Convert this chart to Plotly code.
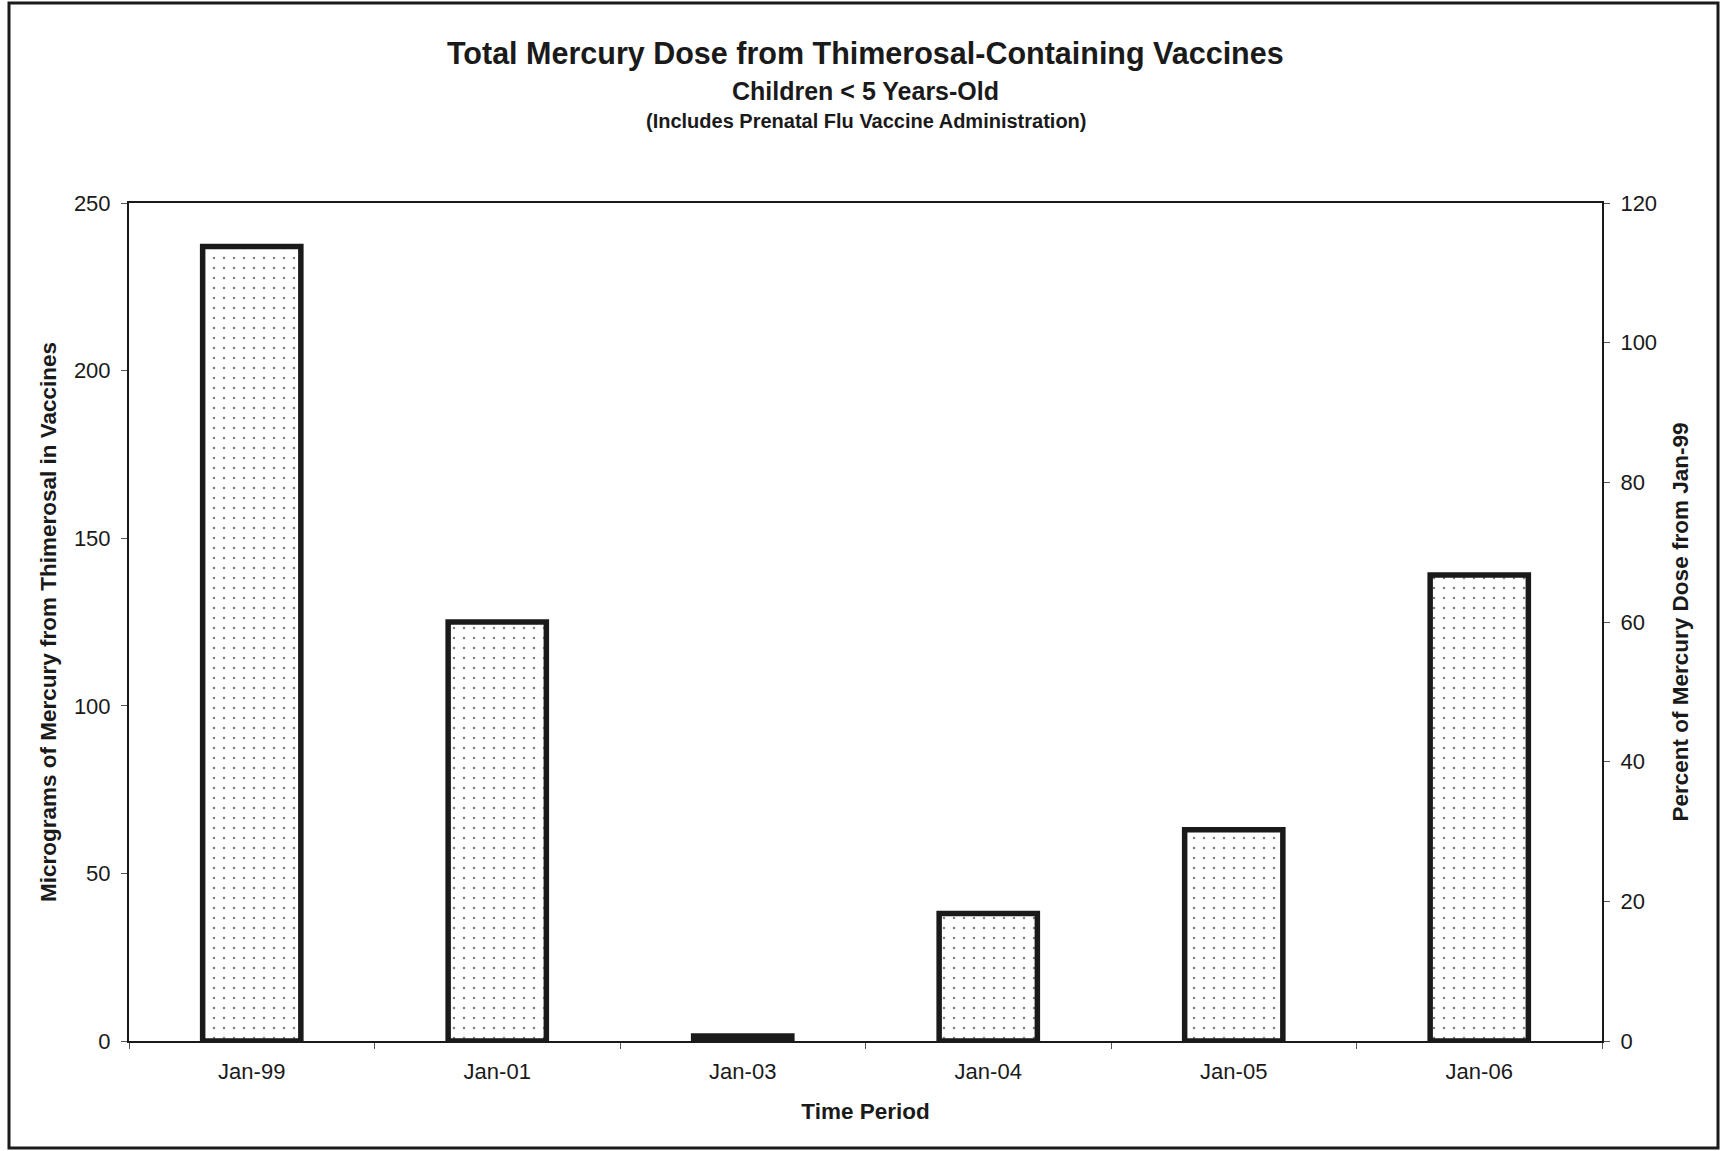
import plotly.graph_objects as go

# Time periods and total mercury dose (micrograms) per period
periods = ["Jan-99", "Jan-01", "Jan-03", "Jan-04", "Jan-05", "Jan-06"]
mercury_ug = [237, 125, 1.5, 38, 63, 139]

# Axis ticks
left_ticks = [0, 50, 100, 150, 200, 250]
right_ticks = [0, 20, 40, 60, 80, 100, 120]

FONT = "Liberation Sans, Arial, sans-serif"
INK = "#1a1a1a"

fig = go.Figure()

fig.add_trace(go.Bar(
    x=periods,
    y=mercury_ug,
    width=0.4,
    marker=dict(
        color="white",
        line=dict(color=INK, width=5.5),
        pattern=dict(shape=".", size=10, solidity=0.05, fgcolor="#000", bgcolor="white"),
    ),
    showlegend=False,
    hoverinfo="x+y",
))

# Invisible companion trace so the percent axis is laid out
fig.add_trace(go.Scatter(
    x=periods, y=[None] * len(periods), yaxis="y2",
    mode="markers", showlegend=False, hoverinfo="skip",
))

axis_common = dict(
    showgrid=False,
    zeroline=False,
    showline=True,
    linecolor=INK,
    linewidth=2,
    ticks="outside",
    ticklen=6,
    tickwidth=1,
    tickcolor="#555",
    tickfont=dict(family=FONT, size=22, color=INK),
)

TITLE_FONT = dict(family=FONT, size=22.5, color=INK)

fig.update_layout(
    width=1725,
    height=1151,
    paper_bgcolor="white",
    plot_bgcolor="white",
    margin=dict(l=129, r=123, t=203, b=110),
    bargap=0.6,
    xaxis=dict(
        **axis_common,
        tickson="boundaries",
        ticklabelstandoff=10,
        title=dict(text="<b>Time Period</b>", font=TITLE_FONT, standoff=20),
        mirror=True,
    ),
    yaxis=dict(
        **axis_common,
        range=[0, 250],
        tickvals=left_ticks,
        ticklabelstandoff=6,
        title=dict(text="<b>Micrograms of Mercury from Thimerosal in Vaccines</b>",
                   font=TITLE_FONT, standoff=11),
    ),
    yaxis2=dict(
        **axis_common,
        range=[0, 120],
        tickvals=right_ticks,
        ticklabelstandoff=6,
        overlaying="y",
        side="right",
        title=dict(text="<b>Percent of Mercury Dose from Jan-99</b>",
                   font=TITLE_FONT, standoff=16),
    ),
    font=dict(family=FONT, color=INK),
)

# Chart titles
titles = [
    ("<b>Total Mercury Dose from Thimerosal-Containing Vaccines</b>", 30.5, 54),
    ("<b>Children &lt; 5 Years-Old</b>", 25, 91),
    ("<b>(Includes Prenatal Flu Vaccine Administration)</b>", 20, 121),
]
for text, size, ypix in titles:
    fig.add_annotation(
        text=text, xref="paper", yref="paper",
        x=0.5, y=1 + (203 - ypix) / (1151 - 203 - 110),
        xanchor="center", yanchor="middle", showarrow=False,
        font=dict(family=FONT, size=size, color=INK),
    )

# Outer chart frame
fig.add_shape(
    type="rect", xref="paper", yref="paper",
    x0=(9 - 129) / (1725 - 129 - 123), x1=(1718 - 129) / (1725 - 129 - 123),
    y0=-(1148 - 1041) / (1151 - 203 - 110), y1=1 + (203 - 3) / (1151 - 203 - 110),
    line=dict(color=INK, width=3), layer="below",
)

fig.write_html("out.html")
